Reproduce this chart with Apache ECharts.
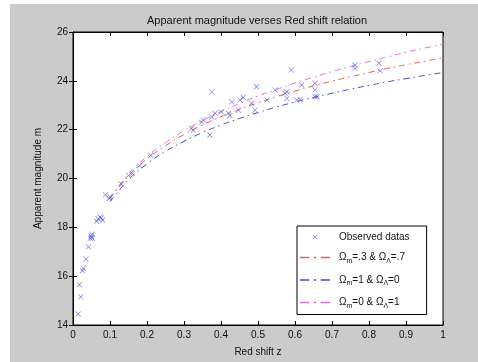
<!DOCTYPE html>
<html>
<head>
<meta charset="utf-8">
<script src="https://cdn.jsdelivr.net/npm/echarts/dist/echarts.min.js"></script>
<style>
html,body{margin:0;padding:0;background:#fff;width:478px;height:362px;overflow:hidden;}
#c{position:absolute;left:10px;top:4px;width:468px;height:358px;}
</style>
</head>
<body>
<div id="c"></div>
<script>
var obsZ = [0.014,0.021,0.017,0.026,0.028,0.035,0.042,0.047,0.049,0.050,0.052,0.051,0.064,0.068,0.073,0.076,0.080,0.088,0.098,0.100,0.13,0.15,0.16,0.18,0.21,
  0.32,0.325,0.348,0.352,0.37,0.375,0.375,0.384,0.40,0.42,0.424,0.429,0.447,0.451,0.46,0.483,0.492,0.496,0.524,0.546,0.573,0.578,0.578,0.59,0.605,0.614,0.618,0.654,0.654,0.654,0.659,0.762,0.762,0.827,0.83];
var obsM = [14.45,15.15,15.65,16.22,16.32,16.70,17.20,17.55,17.65,17.60,17.55,17.72,18.25,18.35,18.42,18.38,18.30,19.33,19.18,19.25,19.78,20.12,20.20,20.52,20.95,
  22.05,21.98,22.30,22.40,21.78,22.52,23.55,22.67,22.73,22.67,22.58,23.14,22.80,23.21,23.32,23.08,22.80,23.76,23.21,23.62,23.49,23.55,23.28,24.44,23.21,23.24,23.83,23.90,23.62,23.35,23.35,24.65,24.51,24.72,24.41];
// Model curves
var curveZ = [0.10,0.15,0.20,0.25,0.30,0.35,0.40,0.45,0.50,0.55,0.60,0.65,0.70,0.75,0.80,0.85,0.90,0.95,1.00];
var mLam   = [19.16,20.11,20.80,21.34,21.80,22.19,22.53,22.83,23.10,23.35,23.58,23.79,23.99,24.17,24.34,24.51,24.66,24.80,24.94];
var mEdS   = [19.05,19.95,20.60,21.11,21.52,21.88,22.19,22.46,22.70,22.93,23.13,23.32,23.49,23.66,23.81,23.96,24.09,24.22,24.34];
var mDeS   = [19.21,20.18,20.90,21.47,21.96,22.37,22.74,23.07,23.38,23.65,23.91,24.15,24.38,24.59,24.79,24.98,25.17,25.34,25.51];
var seriesNames = ['Observed datas','Ωm=.3 & ΩΛ=.7','Ωm=1 & ΩΛ=0','Ωm=0 & ΩΛ=1'];
var legendRich = {
  'Observed datas':'{p|}{a|Observed datas}',
  'Ωm=.3 & ΩΛ=.7':'{p|}{a|Ω}{s|m}{a|=.3 & Ω}{s|Λ}{a|=.7}',
  'Ωm=1 & ΩΛ=0':'{p|}{a|Ω}{s|m}{a|=1 & Ω}{s|Λ}{a|=0}',
  'Ωm=0 & ΩΛ=1':'{p|}{a|Ω}{s|m}{a|=0 & Ω}{s|Λ}{a|=1}'
};
function pairs(xs, ys){ return xs.map(function(x,i){return [x, ys[i]];}); }

var FONT = '"Liberation Sans", Arial, sans-serif';
var cross = 'path://M0,0.8L0.8,0L5,4.2L9.2,0L10,0.8L5.8,5L10,9.2L9.2,10L5,5.8L0.8,10L0,9.2L4.2,5Z';
var smallCross = 'path://M0,0h0.02v0.02h-0.02Z M19.98,19.98h0.02v0.02h-0.02Z M5,5.8L5.8,5L10,9.2L14.2,5L15,5.8L10.8,10L15,14.2L14.2,15L10,10.8L5.8,15L5,14.2L9.2,10Z';
var dashDot = 'path://M0,0H8V1.3H0Z M12,0H14V1.3H12Z M18,0H26V1.3H18Z';
var chart = echarts.init(document.getElementById('c'));
var axisCommon = {
  axisLine:{show:true,lineStyle:{color:'#000',width:1}},
  axisTick:{show:true,inside:true,length:4,lineStyle:{color:'#000'}},
  splitLine:{show:false}
};
chart.setOption({
  backgroundColor:'#cbcbcb',
  animation:false,
  textStyle:{fontFamily:FONT},
  title:{text:'Apparent magnitude verses Red shift relation',left:242,top:6,textAlign:'center',
    textStyle:{fontSize:11,fontWeight:'normal',color:'#111',fontFamily:FONT}},
  grid:{left:63,right:35,top:28,bottom:37,show:true,backgroundColor:'#fff',borderColor:'#000',borderWidth:1},
  legend:{orient:'vertical',left:287,top:222,padding:[6,17,5,3],itemGap:9.5,itemWidth:30,itemHeight:10,
    backgroundColor:'#fff',borderColor:'#000',borderWidth:1,borderRadius:0,
    data:[
      {name:seriesNames[0],icon:smallCross},
      {name:seriesNames[1],icon:dashDot},
      {name:seriesNames[2],icon:dashDot},
      {name:seriesNames[3],icon:dashDot}
    ],
    formatter:function(n){return legendRich[n];},
    textStyle:{fontFamily:FONT,rich:{
      p:{width:4,fontSize:10,lineHeight:14},
      a:{fontSize:10,color:'#111',fontFamily:FONT,lineHeight:14},
      s:{fontSize:7,color:'#111',fontFamily:FONT,lineHeight:14,verticalAlign:'bottom',padding:[6,0,0,0]}
    }}},
  xAxis:[
    Object.assign({type:'value',min:0,max:1,interval:0.1,position:'bottom',
      name:'Red shift z',nameLocation:'middle',nameGap:22,
      nameTextStyle:{fontSize:10,color:'#111',fontFamily:FONT},
      axisLabel:{fontSize:10,color:'#111',margin:5,fontFamily:FONT}},axisCommon),
    Object.assign({type:'value',min:0,max:1,interval:0.1,position:'top',axisLabel:{show:false}},axisCommon)
  ],
  yAxis:[
    Object.assign({type:'value',min:14,max:26,interval:2,position:'left',
      name:'Apparent magnitude m',nameLocation:'middle',nameGap:30,nameRotate:90,
      nameTextStyle:{fontSize:10,color:'#111',fontFamily:FONT},
      axisLabel:{fontSize:10,color:'#111',margin:5,fontFamily:FONT}},axisCommon),
    Object.assign({type:'value',min:14,max:26,interval:2,position:'right',axisLabel:{show:false}},axisCommon)
  ],
  series:[
    {name:seriesNames[0],type:'scatter',symbol:cross,symbolSize:5.5,
      itemStyle:{color:'#5252dc'},data:pairs(obsZ,obsM),z:5},
    {name:seriesNames[1],type:'line',showSymbol:false,symbol:'none',smooth:true,
      lineStyle:{color:'#e8604a',width:1,type:[6,4,1.5,4]},itemStyle:{color:'#e8604a'},data:pairs(curveZ,mLam)},
    {name:seriesNames[2],type:'line',showSymbol:false,symbol:'none',smooth:true,
      lineStyle:{color:'#4848d0',width:1,type:[6,4,1.5,4]},itemStyle:{color:'#4848d0'},data:pairs(curveZ,mEdS)},
    {name:seriesNames[3],type:'line',showSymbol:false,symbol:'none',smooth:true,
      lineStyle:{color:'#e070e0',width:1,type:[6,4,1.5,4]},itemStyle:{color:'#e070e0'},data:pairs(curveZ,mDeS)}
  ]
});
</script>
</body>
</html>
